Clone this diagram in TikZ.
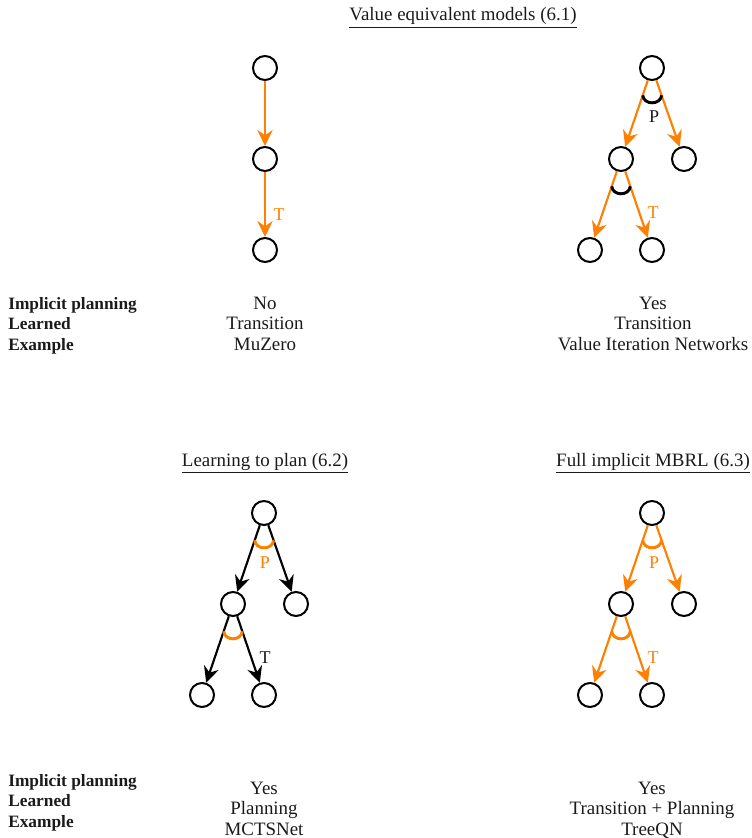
\documentclass[tikz,border=0pt]{standalone}
\usepackage{fontspec}
\setmainfont{Liberation Serif}
\usetikzlibrary{arrows.meta,calc}
\definecolor{dorange}{HTML}{FF8000}
\definecolor{dtext}{HTML}{1A1A1A}
\tikzset{
  st/.style={circle,draw=black,line width=1.5pt,minimum size=18pt,inner sep=0pt},
  arr/.style={line width=1.6pt,-{Stealth[length=12pt,width=11.5pt,inset=4pt]}},
  txt/.style={font=\fontsize{14.2}{16}\selectfont,inner sep=0pt,text=dtext,anchor=base},
  lab/.style={txt,font=\fontsize{13.5}{16}\selectfont},
  bold/.style={txt,font=\fontsize{13}{16}\selectfont\bfseries,anchor=base west}
}
\newcommand{\forkarc}[4]{\draw[#1,line width=2.2pt] ($(#2)!0.3!(#3)$) .. controls +(1,10) and +(-1,10) .. ($(#2)!0.3!(#4)$);}

\begin{document}
\begin{tikzpicture}[x=0.75pt,y=-0.75pt]
\useasboundingbox (0,0) rectangle (752,838);

% titles
\node[txt] (ttla) at (463,21) {\underline{Value equivalent models (6.1)}};
\node[txt] (ttlb) at (265,466) {\underline{Learning to plan (6.2)}};
\node[txt] (ttlc) at (653,466) {\underline{Full implicit MBRL (6.3)}};

% tree 1
\node[st] (a1) at (265,68) {};
\node[st] (a2) at (265,159) {};
\node[st] (a3) at (265,250) {};
\draw[arr,dorange] (a1) -- (a2);
\draw[arr,dorange] (a2) -- (a3);
\node[lab,text=dorange] (ta) at (279,220) {T};

% tree 2
\node[st] (b1) at (652,68) {};
\node[st] (b2) at (621,159) {};
\node[st] (b3) at (684,159) {};
\node[st] (b4) at (590,250) {};
\node[st] (b5) at (652,250) {};
\draw[arr,dorange] (b1) -- (b2);
\draw[arr,dorange] (b1) -- (b3);
\draw[arr,dorange] (b2) -- (b4);
\draw[arr,dorange] (b2) -- (b5);
\forkarc{black}{b1}{b2}{b3}
\forkarc{black}{b2}{b4}{b5}
\node[lab] (pb) at (654,123) {P};
\node[lab,text=dorange] (tb) at (653,218) {T};

% tree 3
\node[st] (c1) at (264,513) {};
\node[st] (c2) at (233,604) {};
\node[st] (c3) at (296,604) {};
\node[st] (c4) at (202,695) {};
\node[st] (c5) at (264,695) {};
\draw[arr,black] (c1) -- (c2);
\draw[arr,black] (c1) -- (c3);
\draw[arr,black] (c2) -- (c4);
\draw[arr,black] (c2) -- (c5);
\forkarc{dorange}{c1}{c2}{c3}
\forkarc{dorange}{c2}{c4}{c5}
\node[lab,text=dorange] (pc) at (265,568) {P};
\node[lab] (tc) at (265,663) {T};

% tree 4
\node[st] (d1) at (652,513) {};
\node[st] (d2) at (621,604) {};
\node[st] (d3) at (684,604) {};
\node[st] (d4) at (590,695) {};
\node[st] (d5) at (652,695) {};
\draw[arr,dorange] (d1) -- (d2);
\draw[arr,dorange] (d1) -- (d3);
\draw[arr,dorange] (d2) -- (d4);
\draw[arr,dorange] (d2) -- (d5);
\forkarc{dorange}{d1}{d2}{d3}
\forkarc{dorange}{d2}{d4}{d5}
\node[lab,text=dorange] (pd) at (654,568) {P};
\node[lab,text=dorange] (td) at (653,663) {T};

% row labels
\node[bold] (la1) at (8,309) {Implicit planning};
\node[bold] (la2) at (8,329.5) {Learned};
\node[bold] (la3) at (8,350) {Example};
\node[bold] (lb1) at (8,786) {Implicit planning};
\node[bold] (lb2) at (8,806.5) {Learned};
\node[bold] (lb3) at (8,827) {Example};

% values
\node[txt] (va1) at (265,309) {No};
\node[txt] (va2) at (265,329.5) {Transition};
\node[txt] (va3) at (265,350) {MuZero};
\node[txt] (vb1) at (653,309) {Yes};
\node[txt] (vb2) at (653,329.5) {Transition};
\node[txt] (vb3) at (653,350) {Value Iteration Networks};
\node[txt] (vc1) at (264,794) {Yes};
\node[txt] (vc2) at (264,814.5) {Planning};
\node[txt] (vc3) at (264,835) {MCTSNet};
\node[txt] (vd1) at (652,794) {Yes};
\node[txt] (vd2) at (652,814.5) {Transition + Planning};
\node[txt] (vd3) at (652,835) {TreeQN};
\end{tikzpicture}
\end{document}
